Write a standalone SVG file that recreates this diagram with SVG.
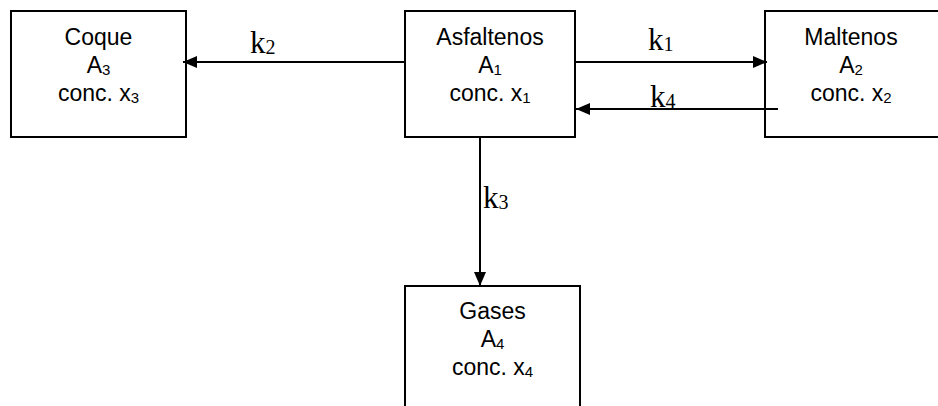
<svg xmlns="http://www.w3.org/2000/svg" width="938" height="406" viewBox="0 0 938 406">
<style>
.box{fill:#fff;stroke:#000;stroke-width:2}
.t{font-family:"Liberation Sans",Arial,sans-serif;font-size:23px;fill:#000;text-anchor:middle}
.s{font-size:15px}
.k{font-family:"Liberation Serif","Times New Roman",serif;font-size:31px;fill:#000}
.ks{font-size:20px}
.c{stroke:#000;stroke-width:2;fill:none}
</style>
<defs>
<marker id="ah" markerUnits="userSpaceOnUse" markerWidth="16" markerHeight="14" refX="14" refY="6" orient="auto">
<path d="M0,0 L14,6 L0,12 Z" fill="#000"/>
</marker>
</defs>
<rect width="938" height="406" fill="#fff"/>
<g id="coque">
<rect class="box" x="11" y="11" width="175" height="126"/>
<text class="t" x="98.5" y="45">Coque</text>
<text class="t" x="98.5" y="73">A<tspan class="s" dy="2">3</tspan></text>
<text class="t" x="98.5" y="101">conc. x<tspan class="s" dy="2">3</tspan></text>
</g>
<g id="asfaltenos">
<rect class="box" x="405" y="11" width="170" height="126"/>
<text class="t" x="490" y="45">Asfaltenos</text>
<text class="t" x="490" y="73">A<tspan class="s" dy="2">1</tspan></text>
<text class="t" x="490" y="101">conc. x<tspan class="s" dy="2">1</tspan></text>
</g>
<g id="maltenos">
<rect class="box" x="765" y="11" width="180" height="126"/>
<text class="t" x="851" y="45">Maltenos</text>
<text class="t" x="851" y="73">A<tspan class="s" dy="2">2</tspan></text>
<text class="t" x="851" y="101">conc. x<tspan class="s" dy="2">2</tspan></text>
</g>
<g id="gases">
<rect class="box" x="405" y="286" width="175" height="130"/>
<text class="t" x="492.5" y="319">Gases</text>
<text class="t" x="492.5" y="347">A<tspan class="s" dy="2">4</tspan></text>
<text class="t" x="492.5" y="375">conc. x<tspan class="s" dy="2">4</tspan></text>
</g>
<g id="connectors">
<line class="c" x1="405" y1="62" x2="183" y2="62" marker-end="url(#ah)"/>
<line class="c" x1="575" y1="62" x2="767" y2="62" marker-end="url(#ah)"/>
<line class="c" x1="778" y1="109" x2="576" y2="109" marker-end="url(#ah)"/>
<line class="c" x1="480" y1="137" x2="480" y2="286" marker-end="url(#ah)"/>
<text class="k" x="250" y="53">k<tspan class="ks" dy="1">2</tspan></text>
<text class="k" x="648" y="50">k<tspan class="ks" dy="1">1</tspan></text>
<text class="k" x="650" y="107">k<tspan class="ks" dy="1">4</tspan></text>
<text class="k" x="483" y="208">k<tspan class="ks" dy="1">3</tspan></text>
</g>
</svg>
